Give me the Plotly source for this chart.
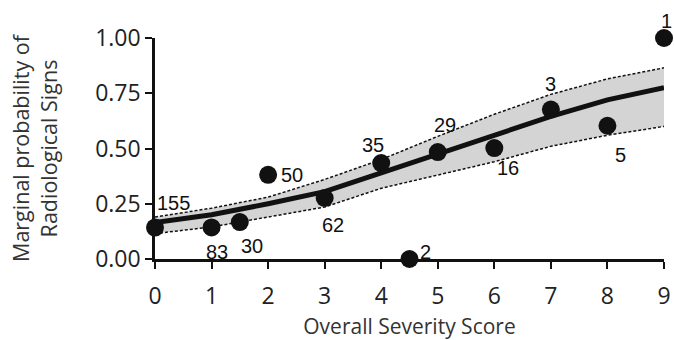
import plotly.graph_objects as go

# Fitted curve and confidence band
curve_x = [0, 1, 2, 3, 4, 5, 6, 7, 8, 9]
curve_mid = [0.165, 0.20, 0.25, 0.305, 0.39, 0.475, 0.555, 0.645, 0.72, 0.775]
curve_upper = [0.19, 0.23, 0.28, 0.36, 0.45, 0.555, 0.655, 0.745, 0.815, 0.865]
curve_lower = [0.115, 0.145, 0.19, 0.235, 0.32, 0.38, 0.44, 0.51, 0.56, 0.60]

# Observed points
point_x = [0, 1, 1.5, 2, 3, 4, 4.5, 5, 6, 7, 8, 9]
point_y = [0.142, 0.143, 0.167, 0.381, 0.276, 0.434, 0.0, 0.484, 0.502, 0.676, 0.603, 1.0]
point_n = ["155", "83", "30", "50", "62", "35", "2", "29", "16", "3", "5", "1"]

# label offsets (pixels) - style only
label_dx = [18, 5, 12, 24, 8, -8, 16, 7, 14, 0, 13, 2]
label_dy = [25, -25, -24, 0, -27, 18, 7, 27, -20, 26, -29, 17]

y_ticks = [0, 0.25, 0.5, 0.75, 1.0]
x_ticks = list(range(10))

fig = go.Figure()

fig.add_trace(go.Scatter(x=curve_x, y=curve_lower, mode="lines",
                         line=dict(color="#111111", width=1.5, dash="3px,2px"),
                         hoverinfo="skip", showlegend=False))
fig.add_trace(go.Scatter(x=curve_x, y=curve_upper, mode="lines", fill="tonexty",
                         fillcolor="#d4d4d4",
                         line=dict(color="#111111", width=1.5, dash="3px,2px"),
                         hoverinfo="skip", showlegend=False))
fig.add_trace(go.Scatter(x=curve_x, y=curve_mid, mode="lines",
                         line=dict(color="#111111", width=5),
                         showlegend=False))
fig.add_trace(go.Scatter(x=point_x, y=point_y, mode="markers",
                         marker=dict(color="#111111", size=18),
                         cliponaxis=False, showlegend=False))

for x, y, n, dx, dy in zip(point_x, point_y, point_n, label_dx, label_dy):
    fig.add_annotation(x=x, y=y, text=n, showarrow=False, xshift=dx, yshift=dy,
                       font=dict(family="Liberation Sans, Arial", size=20, color="#111111"))

axis_font = dict(family="Open Sans", size=23, color="#222222")
title_font = dict(family="Open Sans", size=21, color="#333333")
fig.update_layout(
    width=674, height=340,
    margin=dict(l=155, r=10, t=38, b=81),
    plot_bgcolor="white", paper_bgcolor="white",
    xaxis=dict(range=[0, 9], tickvals=x_ticks, ticks="outside", ticklen=7, tickwidth=2,
               tickcolor="#111111", showline=True, linecolor="#111111", linewidth=2.5,
               showgrid=False, zeroline=False, tickfont=axis_font, ticklabelstandoff=8,
               automargin=False,
               title=dict(text="Overall Severity Score", font=title_font, standoff=10)),
    yaxis=dict(range=[0, 1], tickvals=y_ticks, tickformat=".2f", ticks="outside", ticklen=7,
               tickwidth=2, tickcolor="#111111", showline=True, linecolor="#111111", linewidth=2.5,
               showgrid=False, zeroline=False, tickfont=axis_font, automargin=False,
               title=dict(text="Marginal probability of<br>Radiological Signs",
                          font=dict(family="Open Sans", size=21.5, color="#333333"), standoff=32)),
)

fig.write_html("out.html")
